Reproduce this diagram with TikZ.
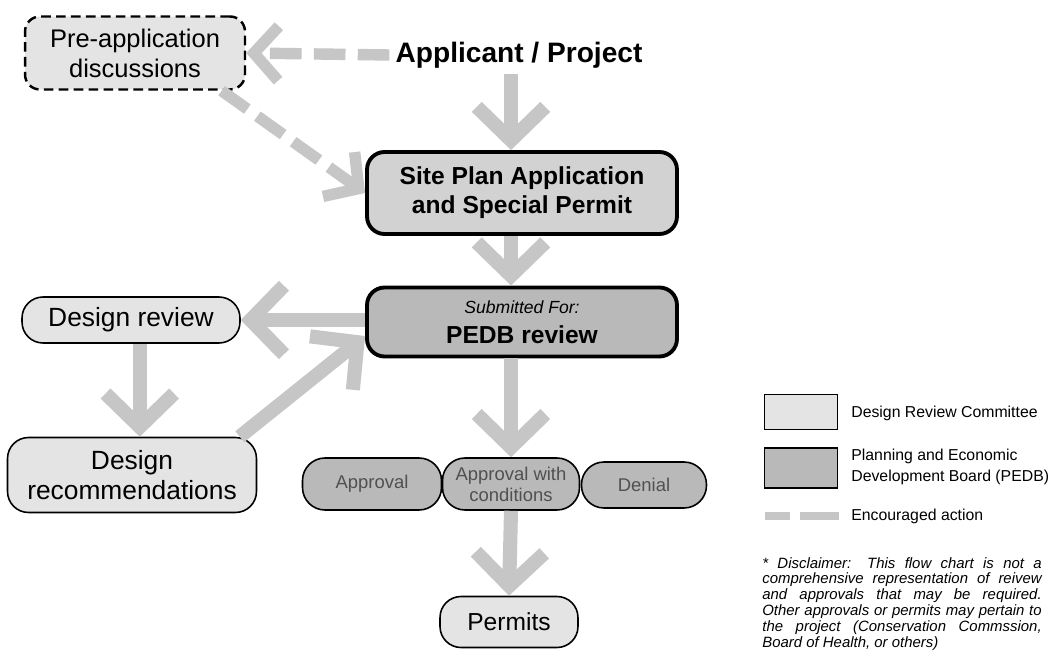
\documentclass[tikz,border=0pt]{standalone}
\usepackage{fontspec}
\setmainfont{Liberation Sans}
\usetikzlibrary{arrows.meta}

\definecolor{arrowgray}{HTML}{C6C6C6}
\definecolor{boxlight}{HTML}{E4E4E4}
\definecolor{boxmid}{HTML}{D2D2D2}
\definecolor{boxdark}{HTML}{B9B9B9}
\definecolor{txtgray}{HTML}{505050}

\newcommand{\fsz}[2]{\fontsize{#1}{#2}\selectfont}

\begin{document}
\begin{tikzpicture}[x=0.02cm,y=-0.02cm,
	flow/.style={draw=arrowgray, line width=8pt, -{Straight Barb[length=19pt,width=39pt]}},
	hint/.style={draw=arrowgray, line width=6.5pt, dash pattern=on 18pt off 7pt, -{Straight Barb[length=14pt,width=31pt]}},
	drc/.style={draw=black, line width=0.9pt, fill=boxlight, rounded corners=0.42cm, align=center, inner sep=0pt},
	board/.style={draw=black, line width=2.2pt, rounded corners=0.35cm, align=center, inner sep=0pt, minimum width=6.2cm},
	outcome/.style={draw=black, line width=0.9pt, fill=boxdark, rounded corners=0.45cm, align=center, inner sep=0pt, text=txtgray, font=\fsz{10.5}{12}, minimum height=1.04cm},
	legbox/.style={draw=black, line width=0.8pt, minimum width=1.46cm, inner sep=0pt},
	legtext/.style={anchor=west, align=left, inner sep=0pt, font=\fsz{9}{11.5}}
	]
	\fill[white] (0,0) rectangle (1058,658);
	\useasboundingbox (0,0) rectangle (1058,658);

	% main column
	\node (pre) [drc, dash pattern=on 5.5pt off 3pt, line width=1.4pt, rounded corners=0.3cm, minimum width=4.4cm, minimum height=1.46cm, font=\fsz{14.5}{17}] at (135,53) {Pre-application\\discussions};
	\node (app) at (519,55) {\fsz{16}{19}\bfseries Applicant / Project};
	\node (site) [board, fill=boxmid, minimum height=1.64cm, font=\fsz{14}{16.5}\bfseries] at (522,193) {Site Plan Application\\and Special Permit};
	\node (pedb) [board, fill=boxdark, minimum height=1.38cm] at (522,322) {{\fsz{10}{12}\itshape Submitted For:}\\[5pt] {\fsz{14}{16}\bfseries PEDB review}};

	\node (drev) [drc, minimum width=4.36cm, minimum height=0.92cm, font=\fsz{15}{17}] at (131,320) {Design review};
	\node (drec) [drc, minimum width=4.98cm, minimum height=1.5cm, font=\fsz{15}{17}] at (132,475) {Design\\recommendations};

	\node (appr) [outcome, minimum width=2.78cm] at (372,484) {Approval};
	\node (apprc) [outcome, minimum width=2.74cm] at (511,484) {Approval with\\conditions};
	\node (den) [outcome, minimum width=2.5cm, minimum height=0.92cm] at (644,485) {Denial};
	\node (perm) [drc, minimum width=2.76cm, minimum height=1.02cm, font=\fsz{14}{16}] at (509,622) {Permits};

	\draw[flow] (app.south -| apprc) -- (site.north -| apprc);
	\draw[flow] (site.south -| apprc) -- (pedb.north -| apprc);
	\draw[flow] (pedb.west |- drev.east) -- (drev.east);
	\draw[flow] ([xshift=5pt]drev.south) -- ([xshift=5pt]drev.south |- drec.north);
	\draw[flow] ([xshift=-10pt]drec.north east) -- ([yshift=-8pt]pedb.west);
	\draw[flow] (pedb.south -| apprc) -- (apprc.north);
	\draw[flow] (apprc.south) -- (perm.north);

	% encouraged actions
	\draw[hint] (app.west) -- (pre.east);
	\draw[hint] ([xshift=-14pt]pre.south east) -- (site.west);

	% legend
	\node (legA) [legbox, fill=boxlight, minimum height=0.7cm] at (801,412) {};
	\node (legB) [legbox, fill=boxdark, minimum height=0.8cm] at (801,468) {};
	\coordinate (legC1) at (765,516);
	\coordinate (legC2) at (839,516);
	\draw[draw=arrowgray, line width=4pt, dash pattern=on 14pt off 6pt on 22pt off 6pt] (legC1) -- (legC2);
	\node (legAt) [legtext] at (851,413) {Design Review Committee};
	\node (legBt) [legtext] at (851,467) {Planning and Economic\\Development Board (PEDB)};
	\node (legCt) [legtext] at (851,516) {Encouraged action};

	\node (discl) [anchor=north west, inner sep=0pt, text width=159pt, align=justify, font=\fsz{8.5}{9}\itshape] at (762,557)
		{\hyphenpenalty=10000 * Disclaimer: This flow chart is not a\linebreak
		comprehensive representation of reivew\linebreak
		and approvals that may be required.\linebreak
		Other approvals or permits may pertain to\linebreak
		the project (Conservation Commssion,\linebreak
		Board of Health, or others)};
\end{tikzpicture}
\end{document}
